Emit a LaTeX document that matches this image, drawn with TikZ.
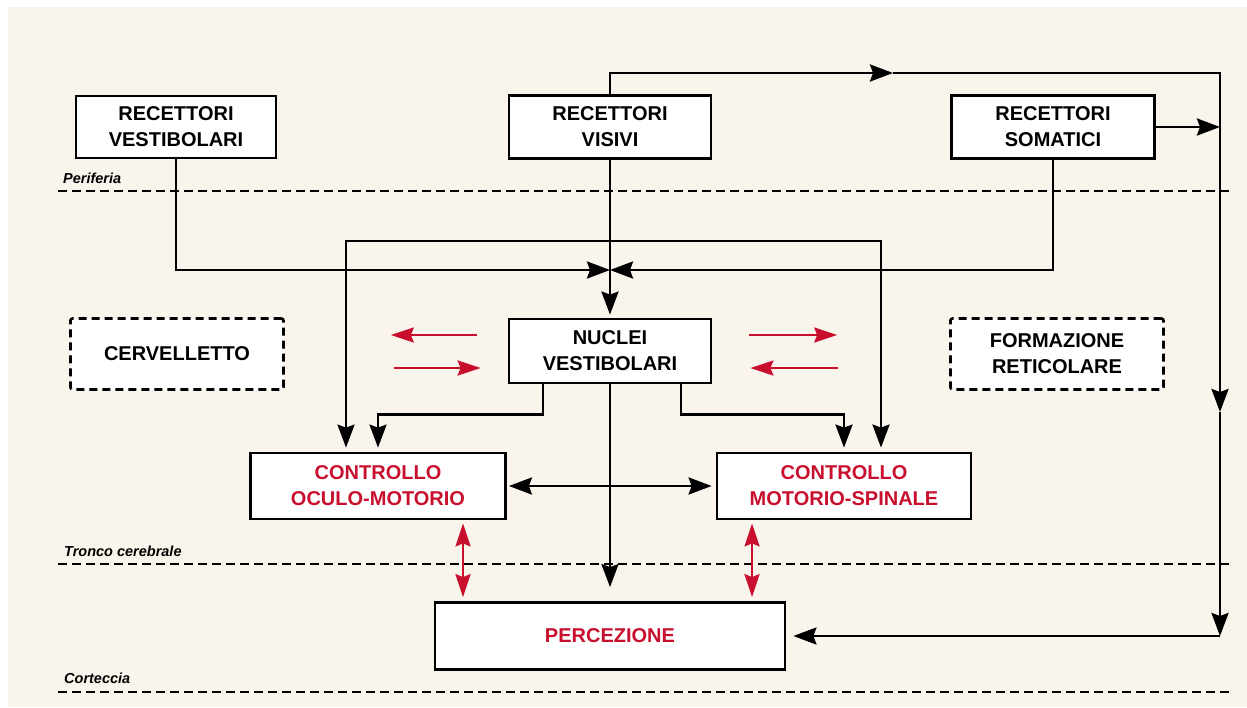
\documentclass[tikz,border=0pt]{standalone}
\usepackage{fontspec}
\setmainfont{Liberation Sans}
\usepackage{tikz}
\usetikzlibrary{arrows.meta, positioning}
\usepackage{xcolor}
\definecolor{crema}{HTML}{FAF5EC}
\definecolor{rosso}{HTML}{C8102E}

\begin{document}
\begin{tikzpicture}[x=1pt, y=-1pt,
    box/.style={draw, rectangle, line width=2.8pt, fill=white, align=center, inner sep=0pt,
        font=\fontsize{20}{26}\selectfont\bfseries},
    boxrossa/.style={box, text=rosso},
    boxtratt/.style={box, line width=2.6pt, dash pattern=on 8pt off 5pt, rounded corners=2pt},
    linea/.style={line width=2.8pt},
    freccia/.style={linea, -{Stealth[length=23pt, width=17pt, inset=3pt]}},
    doppia/.style={linea, {Stealth[length=23pt, width=17pt, inset=3pt]}-{Stealth[length=23pt, width=17pt, inset=3pt]}},
    rossa/.style={draw=rosso, line width=2.5pt, -{Stealth[length=23pt, width=15pt, inset=3pt]}},
    rossadoppia/.style={draw=rosso, line width=2.5pt, {Stealth[length=23pt, width=15pt, inset=3pt]}-{Stealth[length=23pt, width=15pt, inset=3pt]}},
    strato/.style={line width=2.8pt, dash pattern=on 9pt off 5pt},
    etich/.style={anchor=base west, inner sep=0pt, font=\fontsize{14.5}{15}\selectfont\bfseries\itshape}]

    \useasboundingbox[fill=white] (0,0) rectangle (1247,707);
    \fill[crema] (8,7) rectangle (1247,707);

    \node[box, minimum width=200, minimum height=62] (recvest) at (176,127) {RECETTORI\\VESTIBOLARI};
    \node[box, minimum width=202, minimum height=63] (recvis) at (610,127) {RECETTORI\\VISIVI};
    \node[box, minimum width=203, minimum height=63] (recsom) at (1053,127) {RECETTORI\\SOMATICI};
    \node[boxtratt, minimum width=213, minimum height=71] (cerv) at (177,354) {CERVELLETTO};
    \node[box, minimum width=202, minimum height=64] (nuclei) at (610,351) {NUCLEI\\VESTIBOLARI};
    \node[boxtratt, minimum width=213, minimum height=71] (form) at (1057,354) {FORMAZIONE\\RETICOLARE};
    \node[boxrossa, minimum width=255, minimum height=66] (oculo) at (378,486) {CONTROLLO\\OCULO-MOTORIO};
    \node[boxrossa, minimum width=254, minimum height=66] (motorio) at (844,486) {CONTROLLO\\MOTORIO-SPINALE};
    \node[boxrossa, minimum width=350, minimum height=67] (perc) at (610,636) {PERCEZIONE};

    \node[etich] (periferia) at (63,183) {Periferia};
    \node[etich] (tronco) at (64,556) {Tronco cerebrale};
    \node[etich] (corteccia) at (64,683) {Corteccia};
    \draw[strato] (58,191) -- (1230,191);
    \draw[strato] (58,564) -- (1230,564);
    \draw[strato] (58,692) -- (1230,692);

    \coordinate (nodo) at (610,270);
    \coordinate (ramo) at (610,241);
    \coordinate (alto) at (1220,73);
    \coordinate (f1) at (893,73);
    \coordinate (f2) at (1220,412);
    \coordinate (basso) at (1220,636);

    \draw[freccia] (recvest.south) |- (nodo);
    \draw[freccia] (recsom.south) |- (nodo);
    \draw[freccia, shorten >=3pt] (recvis.south) -- (nuclei.north);
    \draw[freccia] (recvis.north) |- (f1);
    \draw[freccia] (f1) -| (f2);
    \draw[freccia] (f2) -- (basso);
    \draw[freccia, shorten >=7pt] (basso) -- (perc.east);
    \draw[freccia] (recsom.east) -- (recsom.east -| alto);

    \draw[freccia, shorten >=4pt] (ramo) -| ([xshift=-32pt]oculo.north);
    \draw[freccia, shorten >=4pt] (ramo) -| ([xshift=37pt]motorio.north);
    \draw[freccia, shorten >=4pt] ([xshift=-67pt]nuclei.south) -- ++(0,30) -| (oculo.north);
    \draw[freccia, shorten >=4pt] ([xshift=71pt]nuclei.south) -- ++(0,30) -| (motorio.north);
    \draw[freccia, shorten >=14pt] (nuclei.south) -- (perc.north);
    \draw[doppia, shorten <=2pt, shorten >=4pt] (oculo.east) -- (motorio.west);

    \draw[rossa, shorten <=31pt, shorten >=106pt] ([yshift=16pt]nuclei.west) -- ([yshift=16pt]nuclei.west -| cerv.east);
    \draw[rossa, shorten <=109pt, shorten >=27pt] ([yshift=-17pt]nuclei.west -| cerv.east) -- ([yshift=-17pt]nuclei.west);
    \draw[rossa, shorten <=37pt, shorten >=112pt] ([yshift=16pt]nuclei.east) -- ([yshift=16pt]nuclei.east -| form.west);
    \draw[rossa, shorten <=111pt, shorten >=38pt] ([yshift=-17pt]nuclei.east -| form.west) -- ([yshift=-17pt]nuclei.east);

    \draw[rossadoppia, shorten <=3pt, shorten >=4pt] ([xshift=85pt]oculo.south) -- ([xshift=85pt]oculo.south |- perc.north);
    \draw[rossadoppia, shorten <=3pt, shorten >=4pt] ([xshift=-92pt]motorio.south) -- ([xshift=-92pt]motorio.south |- perc.north);
\end{tikzpicture}
\end{document}
